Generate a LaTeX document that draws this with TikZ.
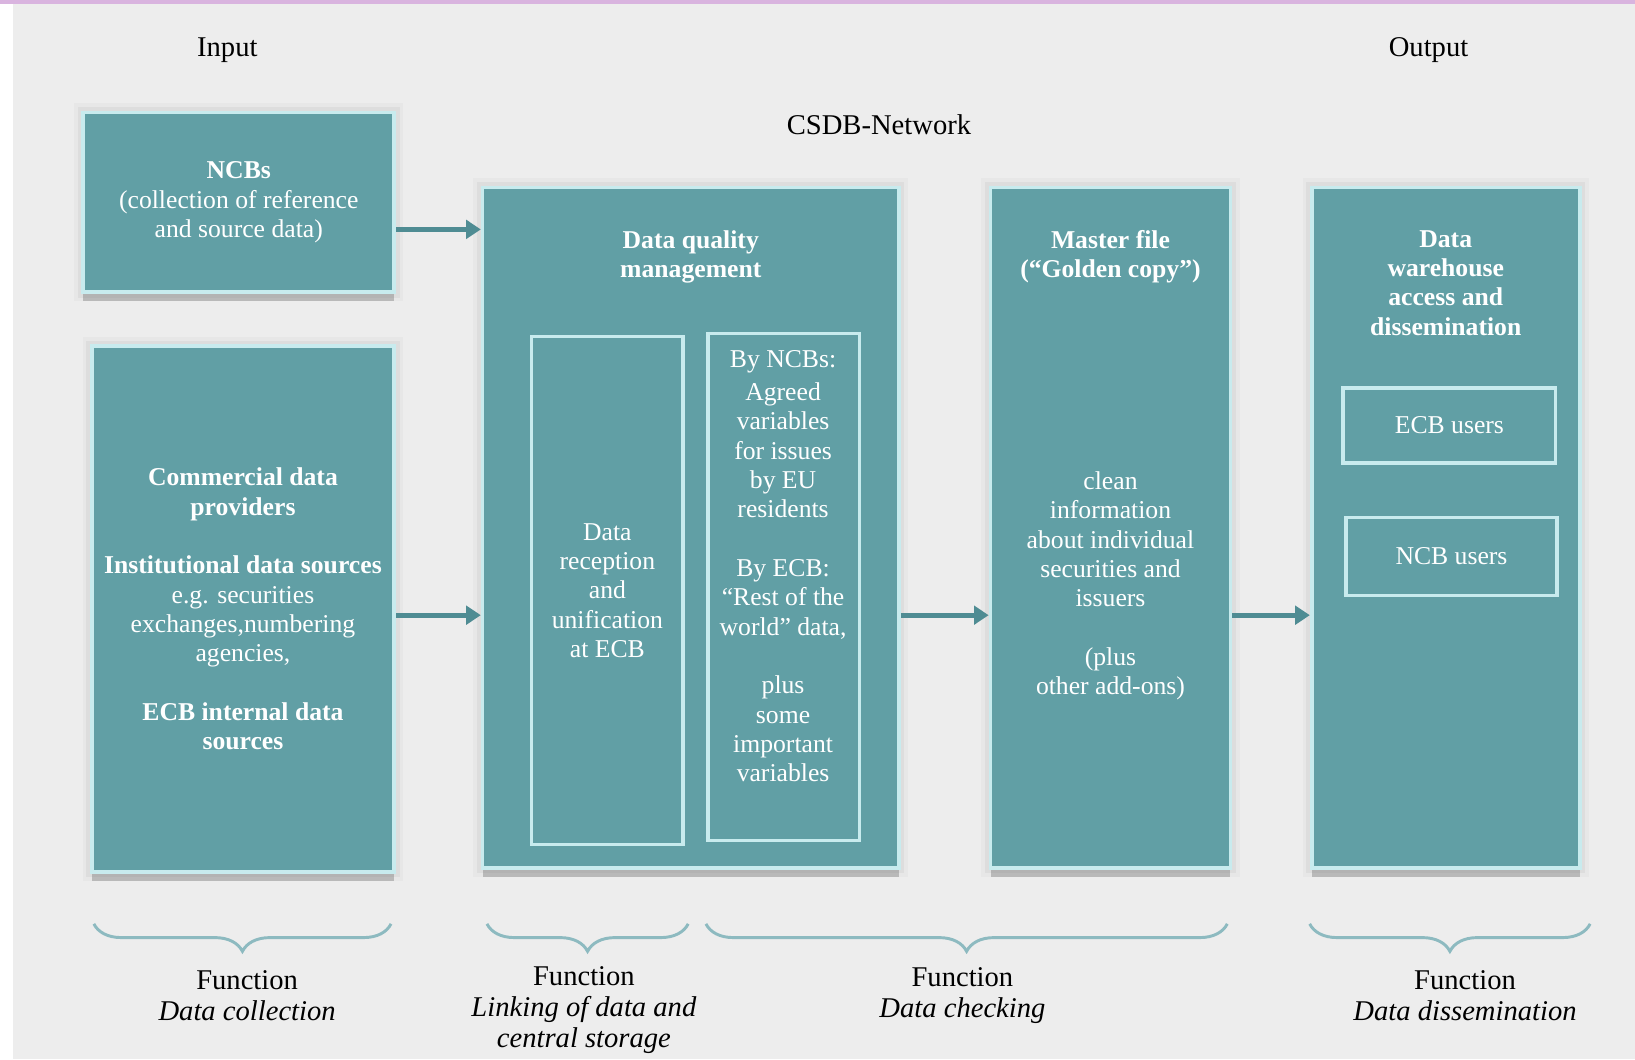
\documentclass[tikz,border=0pt]{standalone}
\usepackage{fontspec}
\setmainfont{Liberation Serif}
\usetikzlibrary{arrows.meta, positioning, shadows, decorations.pathreplacing}

\definecolor{bggray}{HTML}{EDEDED}
\definecolor{topline}{HTML}{D9B4DF}
\definecolor{boxfill}{HTML}{619FA5}
\definecolor{boxline}{HTML}{C8EBEE}
\definecolor{arrowc}{HTML}{4F8C93}
\definecolor{bracec}{HTML}{8DBAC0}

\tikzset{
    box/.style={draw=boxline, fill=boxfill, line width=1pt, text=white, align=center, inner sep=0pt,
        font=\fontsize{7}{8}\selectfont,
        preaction={draw=black!50, line width=5pt, opacity=0.05},
        preaction={draw=black!50, line width=3pt, opacity=0.09},
        drop shadow={shadow xshift=0pt, shadow yshift=-2.5pt, opacity=0.35, fill=black!60}},
    inbox/.style={draw=boxline, line width=0.9pt, text=white, align=center, inner sep=0pt,
        font=\fontsize{7}{8}\selectfont},
    txt/.style={text=white, align=center, inner sep=0pt, font=\fontsize{7}{8}\selectfont},
    flow/.style={color=arrowc, line width=1.3pt, -{Triangle[length=4pt, width=5pt]}},
    fbrace/.style={draw=bracec, line width=0.8pt, decorate, decoration={brace, mirror, amplitude=7.5pt}},
    fn/.style={align=center, inner sep=0pt, font=\fontsize{7.8}{8.5}\selectfont}
}

\begin{document}
\begin{tikzpicture}[x=0.01cm, y=-0.01cm]
        \fill[white] (0,0) rectangle (1568,1016);
        \fill[bggray] (12.5,0) rectangle (1568,1016);
        \fill[topline] (0,0) rectangle (1568,4);

        \node[fn] (inp) at (218,48) {Input};
        \node[fn] (outp) at (1370,48) {Output};
        \node[fn] (csdb) at (843,120) {CSDB-Network};

        \node[box, minimum width=2.98cm, minimum height=1.72cm] (ncb) at (229,194)
            {\textbf{NCBs}\\(collection of reference\\and source data)};
        \node[box, minimum width=2.90cm, minimum height=5.04cm] (comm) at (233,584)
            {\textbf{Commercial data}\\\textbf{providers}\\[8pt]\textbf{Institutional data sources}\\e.g. securities\\exchanges,numbering\\agencies,\\[8pt]\textbf{ECB internal data}\\\textbf{sources}};
        \node[box, minimum width=3.99cm, minimum height=6.52cm] (dqm) at (662.5,506) {};
        \node[box, minimum width=2.30cm, minimum height=6.52cm] (master) at (1065,506) {};
        \node[box, minimum width=2.57cm, minimum height=6.52cm] (dw) at (1386.5,506) {};

        \node[txt, below=0.42cm of dqm.north] (dqmhead) {\textbf{Data quality}\\\textbf{management}};
        \node[txt, below=0.42cm of master.north] (masterhead) {\textbf{Master file}\\\textbf{(``Golden copy'')}};
        \node[txt, below=0.42cm of dw.north] (dwhead) {\textbf{Data}\\\textbf{warehouse}\\\textbf{access and}\\\textbf{dissemination}};

        \node[inbox, minimum width=1.45cm, minimum height=4.87cm] (recv) at (582.5,566.5)
            {Data\\reception\\and\\unification\\at ECB};
        \node[inbox, minimum width=1.45cm, minimum height=4.86cm] (vars) at (751.5,563) {};
        \node[txt] (varstxt) at (751,543)
            {By NCBs:\\[1pt]Agreed\\variables\\for issues\\by EU\\residents\\[8pt]By ECB:\\``Rest of the\\world'' data,\\[8pt]plus\\some\\important\\variables};
        \node[txt] (mastertxt) at (1065,562)
            {clean\\information\\about individual\\securities and\\issuers\\[8pt](plus\\other add-ons)};
        \node[inbox, minimum width=2.04cm, minimum height=0.72cm] (ecbu) at (1390,408) {ECB users};
        \node[inbox, minimum width=2.02cm, minimum height=0.75cm] (ncbu) at (1392,533.5) {NCB users};

        \coordinate (top) at (0,220);
        \coordinate (mid) at (0,590);
        \path[flow]
            (ncb.east |- top) edge (dqm.west |- top)
            (comm.east |- mid) edge (dqm.west |- mid)
            (dqm.east |- mid) edge (master.west |- mid)
            (master.east |- mid) edge (dw.west |- mid);

        \draw[fbrace] (90,886) -- (375,886);
        \draw[fbrace] (467,886) -- (660,886);
        \draw[fbrace] (677,886) -- (1177,886);
        \draw[fbrace] (1256,886) -- (1525,886);

        \node[fn] (f1) at (237,955) {Function\\\textit{Data collection}};
        \node[fn] (f2) at (560,968.5) {Function\\\textit{Linking of data and}\\\textit{central storage}};
        \node[fn] (f3) at (923,955) {Function\\\textit{Data checking}};
        \node[fn] (f4) at (1405,955) {Function\\\textit{Data dissemination}};
    \end{tikzpicture}
\end{document}
